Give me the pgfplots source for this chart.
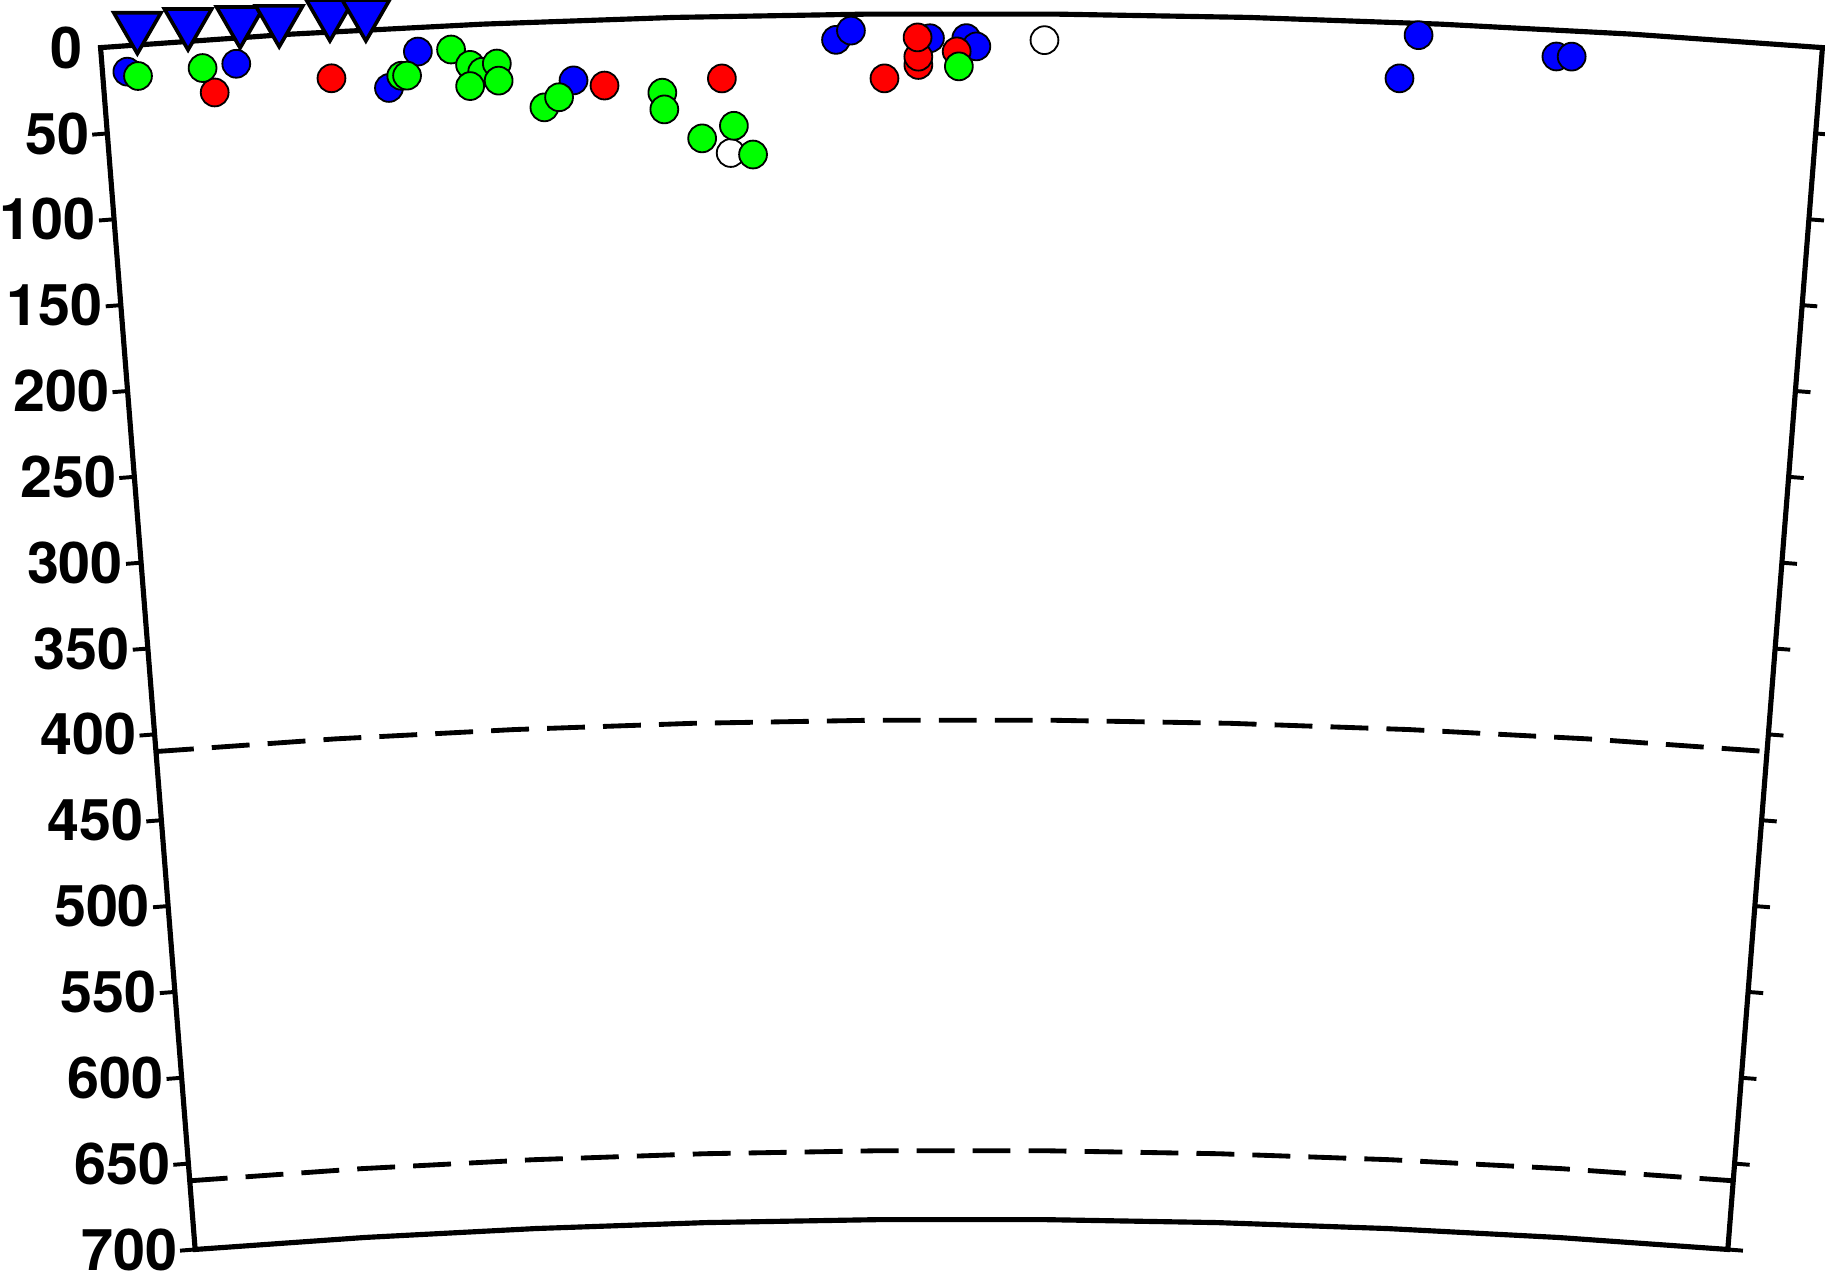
\documentclass[border=0pt]{standalone}
\usepackage{pgfplots}
\pgfplotsset{compat=1.18}
\usepackage{pgfplotstable}
\usepackage{fontspec}
\setmainfont{TeX Gyre Heros}

\definecolor{gmtblue}{RGB}{0,0,255}
\definecolor{gmtred}{RGB}{255,0,0}
\definecolor{gmtgreen}{RGB}{0,255,0}

\pgfdeclareplotmark{ltick}{\pgfpathmoveto{\pgfpointorigin}\pgfpathlineto{\pgfpoint{-2.5pt}{0pt}}\pgfusepathqstroke}
\pgfdeclareplotmark{rtick}{\pgfpathmoveto{\pgfpointorigin}\pgfpathlineto{\pgfpoint{2.5pt}{0pt}}\pgfusepathqstroke}

% a = distance along section in degrees from left edge, d = depth (km)
\pgfplotstableread{
a d
0.129 15.1
0.701 15.1
1.653 14.1
1.492 34.5
2.462 34.8
3.843 14.8
3.922 9.5
4.334 14.3
4.526 14.3
4.578 19.1
6.891 6.8
6.800 32.4
7.617 15.5
7.696 15.0
}\tblue

\pgfplotstableread{
a d
0.578 30.9
1.194 26.9
2.623 38.3
3.241 36.0
4.095 37.3
4.273 29.7
4.273 24.9
4.270 13.7
4.474 22.0
}\tred

\pgfplotstableread{
a d
0.183 18.0
0.524 16.3
1.560 27.8
1.590 27.9
1.827 13.8
1.923 23.3
1.984 27.5
2.063 23.1
1.918 35.5
2.069 33.1
2.303 49.7
2.383 44.2
2.926 43.4
2.934 53.1
3.130 70.5
3.298 63.7
3.397 80.7
4.486 30.7
}\tgreen

\pgfplotstableread{
a d
3.279 79.5
4.935 15.1
}\twhite

\pgfplotstableread{
a d
0.199 -10.7
0.464 -10.5
0.736 -9.8
0.940 -9.0
1.205 -10.7
1.392 -9.4
}\tsta

\pgfplotstableread{
a d
0 50
0 100
0 150
0 200
0 250
0 300
0 350
0 400
0 450
0 500
0 550
0 600
0 650
0 700
}\tticks

\pgfplotstableread{
a d
0 0
0 50
0 100
0 150
0 200
0 250
0 300
0 350
0 400
0 450
0 500
0 550
0 600
0 650
0 700
}\tlabels

\begin{document}
\begin{tikzpicture}
\begin{axis}[
  x=0.1mm, y=0.1mm,
  hide axis,
  clip=false,
  xmin=-499.86, xmax=499.86,
  ymin=5653.5, ymax=6371,
]
% frame
\addplot[data cs=polar, line width=0.85pt, line join=miter] coordinates {
 (94.5,5671) (94.5,6371) (93.5,6371) (92.5,6371) (91.5,6371) (90.5,6371)
 (89.5,6371) (88.5,6371) (87.5,6371) (86.5,6371) (85.5,6371) (85.5,5671)
 (86.5,5671) (87.5,5671) (88.5,5671) (89.5,5671) (90.5,5671) (91.5,5671)
 (92.5,5671) (93.5,5671) (94.5,5671)} -- cycle;
% 410 and 660 km discontinuities
\addplot[data cs=polar, line width=0.8pt, dash pattern=on 2.2mm off 1.05mm] coordinates {
 (94.5,5961) (93.5,5961) (92.5,5961) (91.5,5961) (90.5,5961) (89.5,5961)
 (88.5,5961) (87.5,5961) (86.5,5961) (85.5,5961)};
\addplot[data cs=polar, line width=0.8pt, dash pattern=on 2.2mm off 1.05mm] coordinates {
 (94.5,5711) (93.5,5711) (92.5,5711) (91.5,5711) (90.5,5711) (89.5,5711)
 (88.5,5711) (87.5,5711) (86.5,5711) (85.5,5711)};
% depth ticks
\addplot[data cs=polar, only marks, mark=ltick, mark options={rotate=4.5, line width=0.65pt}]
  table[x expr=94.5-\thisrow{a}, y expr=6371-\thisrow{d}] {\tticks};
\addplot[data cs=polar, only marks, mark=rtick, overlay, mark options={rotate=-4.5, line width=0.65pt}]
  table[x expr=85.5+\thisrow{a}, y expr=6371-\thisrow{d}] {\tticks};
% depth labels
\addplot[data cs=polar, only marks, mark=none, point meta=explicit symbolic, nodes near coords,
  every node near coord/.append style={anchor=east, xshift=-2.8pt, inner sep=0pt,
  font=\fontsize{9.5}{9.5}\selectfont\bfseries}]
  table[x expr=94.5-\thisrow{a}, y expr=6371-\thisrow{d}, meta=d] {\tlabels};
% events
\addplot[data cs=polar, only marks, mark=*, mark size=2.3pt, mark options={fill=white, draw=black, line width=0.3pt}]
  table[x expr=94.5-\thisrow{a}, y expr=6371-\thisrow{d}] {\twhite};
\addplot[data cs=polar, only marks, mark=*, mark size=2.3pt, mark options={fill=gmtblue, draw=black, line width=0.3pt}]
  table[x expr=94.5-\thisrow{a}, y expr=6371-\thisrow{d}] {\tblue};
\addplot[data cs=polar, only marks, mark=*, mark size=2.3pt, mark options={fill=gmtred, draw=black, line width=0.3pt}]
  table[x expr=94.5-\thisrow{a}, y expr=6371-\thisrow{d}] {\tred};
\addplot[data cs=polar, only marks, mark=*, mark size=2.3pt, mark options={fill=gmtgreen, draw=black, line width=0.3pt}]
  table[x expr=94.5-\thisrow{a}, y expr=6371-\thisrow{d}] {\tgreen};
% stations
\addplot[data cs=polar, only marks, mark=triangle*, mark size=4.5pt, mark options={rotate=180, fill=gmtblue, draw=black, line width=0.6pt}]
  table[x expr=94.5-\thisrow{a}, y expr=6371-\thisrow{d}] {\tsta};
\end{axis}
\path ([yshift=-0.6pt]current bounding box.south);
\end{tikzpicture}
\end{document}
